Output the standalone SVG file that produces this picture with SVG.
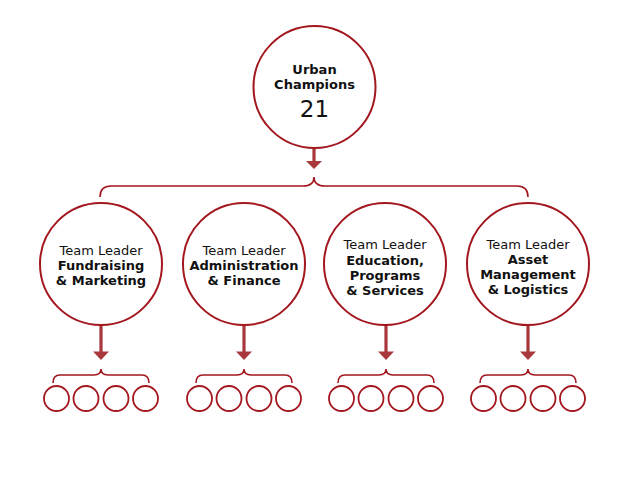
<svg xmlns="http://www.w3.org/2000/svg" width="640" height="483" viewBox="0 0 640 483">
<defs>
<style>
.c{fill:#fff;stroke:#a3171f;stroke-width:2}
.s{fill:#fff;stroke:#a3171f;stroke-width:1.8}
.b{fill:none;stroke:#a3171f;stroke-width:1.6}
.a{fill:#a8383b}
text{font-family:"DejaVu Sans",Verdana,sans-serif;font-size:13px;fill:#111;text-anchor:middle}
.bd{font-weight:bold}
</style>
<g id="arrowTop"><rect x="-1.6" y="0" width="3.2" height="14"/><polygon points="-8,13 8,13 0,21"/></g>
<g id="arrowDown"><rect x="-1.6" y="0" width="3.2" height="28"/><polygon points="-8,26.5 8,26.5 0,35"/></g>
<g id="smallBrace"><path d="M-48,8 Q-48,0 -41,0 L-7,0 Q0,0 0,-6 Q0,0 7,0 L41,0 Q48,0 48,8"/></g>
<g id="smalls"><circle cx="-44.5" cy="0" r="12.5"/><circle cx="-15" cy="0" r="12.5"/><circle cx="15" cy="0" r="12.5"/><circle cx="44.5" cy="0" r="12.5"/></g>
</defs>
<rect width="640" height="483" fill="#fff"/>
<g id="connectors">
<use href="#arrowTop" class="a" x="314" y="148"/>
<path class="b" d="M100,197 Q100,186 111,186 L303,186 Q314,186 314,177 Q314,186 325,186 L517,186 Q528,186 528,197"/>
<use href="#arrowDown" class="a" x="101" y="325"/>
<use href="#arrowDown" class="a" x="244" y="325"/>
<use href="#arrowDown" class="a" x="386" y="325"/>
<use href="#arrowDown" class="a" x="528" y="325"/>
<use href="#smallBrace" class="b" x="101" y="375"/>
<use href="#smallBrace" class="b" x="244" y="375"/>
<use href="#smallBrace" class="b" x="386" y="375"/>
<use href="#smallBrace" class="b" x="528" y="375"/>
</g>
<g id="urban-champions">
<circle class="c" cx="314.5" cy="87" r="61"/>
<text x="314.5" y="74" class="bd">Urban</text>
<text x="314.5" y="89" class="bd">Champions</text>
<text x="314.5" y="117" style="font-size:23px">21</text>
</g>
<g id="fundraising">
<circle class="c" cx="101" cy="264" r="61"/>
<text x="101" y="255">Team Leader</text>
<text x="101" y="270" class="bd">Fundraising</text>
<text x="101" y="285" class="bd">&amp; Marketing</text>
</g>
<g id="administration">
<circle class="c" cx="244" cy="264" r="61"/>
<text x="244" y="255">Team Leader</text>
<text x="244" y="270" class="bd">Administration</text>
<text x="244" y="285" class="bd">&amp; Finance</text>
</g>
<g id="education">
<circle class="c" cx="385" cy="264" r="61"/>
<text x="385" y="249">Team Leader</text>
<text x="385" y="265" class="bd">Education,</text>
<text x="385" y="280" class="bd">Programs</text>
<text x="385" y="295" class="bd">&amp; Services</text>
</g>
<g id="asset">
<circle class="c" cx="528" cy="264" r="61"/>
<text x="528" y="249">Team Leader</text>
<text x="528" y="264" class="bd">Asset</text>
<text x="528" y="279" class="bd">Management</text>
<text x="528" y="294" class="bd">&amp; Logistics</text>
</g>
<g id="members-1"><use href="#smalls" class="s" x="101" y="398.5"/></g>
<g id="members-2"><use href="#smalls" class="s" x="244" y="398.5"/></g>
<g id="members-3"><use href="#smalls" class="s" x="386" y="398.5"/></g>
<g id="members-4"><use href="#smalls" class="s" x="528" y="398.5"/></g>
</svg>
